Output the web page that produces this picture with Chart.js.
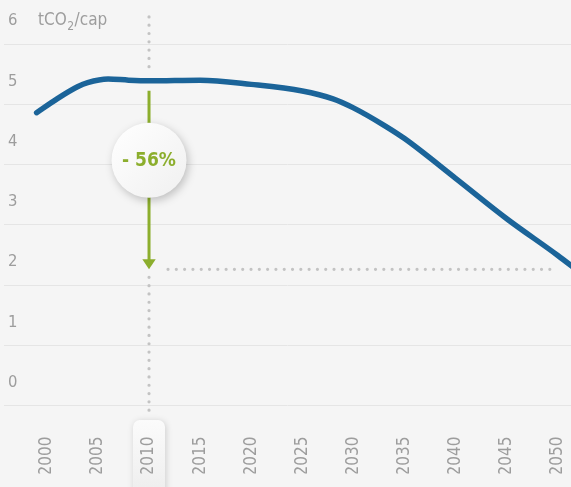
<!DOCTYPE html>
<html>
<head>
<meta charset="utf-8">
<script src="https://cdn.jsdelivr.net/npm/chart.js@4/dist/chart.umd.min.js"></script>
<style>
  html, body { margin: 0; padding: 0; background: #f5f5f5; }
  canvas { display: block; }
</style>
</head>
<body>
<canvas id="chart" width="571" height="487"></canvas>
<script>
// per-capita CO2 emissions path (tCO2/cap)
const years = [1999, 2001, 2003, 2004, 2006, 2008, 2010, 2015, 2020, 2025, 2028, 2030, 2033, 2035, 2040, 2045, 2050, 2052];
const emissions = [4.86, 5.09, 5.29, 5.36, 5.42, 5.40, 5.39, 5.40, 5.33, 5.22, 5.09, 4.94, 4.65, 4.43, 3.77, 3.10, 2.49, 2.23];

const tickYears = [2000, 2005, 2010, 2015, 2020, 2025, 2030, 2035, 2040, 2045, 2050];
const tickValues = [0, 1, 2, 3, 4, 5, 6];

const unitLabel = ['tCO', '2', '/cap'];
const highlightYear = 2010;
const targetYear = 2050;
const baseValue = 5.39;
const targetValue = 2.26;
const reductionLabel = '- 56%';

const FONT = "'Liberation Sans Narrow', 'Arial Narrow', 'DejaVu Sans Condensed', sans-serif";
const GREY_TEXT = '#9d9d9d';
const GREEN = '#8cae2d';
const BLUE = '#1b6499';

function dotted(ctx, x1, y1, x2, y2) {
    ctx.save();
    ctx.strokeStyle = '#c3c3c3';
    ctx.lineWidth = 3.2;
    ctx.lineCap = 'round';
    ctx.setLineDash([0, 8.3]);
    ctx.beginPath();
    ctx.moveTo(x1, y1);
    ctx.lineTo(x2, y2);
    ctx.stroke();
    ctx.restore();
}

const overlay = {
    id: 'overlay',
    beforeDraw(chart) {
        const { ctx, scales: { x, y } } = chart;
        // highlighted year tab behind the tick label
        const px = x.getPixelForValue(highlightYear);
        const top = y.bottom + 14.5;
        ctx.save();
        ctx.shadowColor = 'rgba(0,0,0,0.16)';
        ctx.shadowBlur = 6;
        ctx.shadowOffsetX = 1;
        ctx.shadowOffsetY = 1;
        const g = ctx.createLinearGradient(0, top, 0, chart.height);
        g.addColorStop(0, '#fbfbfb');
        g.addColorStop(1, '#efefef');
        ctx.fillStyle = g;
        ctx.beginPath();
        ctx.roundRect(px - 16, top, 32, 90, 7);
        ctx.fill();
        ctx.restore();
    },
    beforeDatasetsDraw(chart) {
        const { ctx, scales: { x, y } } = chart;
        const px = x.getPixelForValue(highlightYear);
        const lineY = y.getPixelForValue(baseValue);
        const targetY = y.getPixelForValue(targetValue);

        // guides
        dotted(ctx, px, y.getPixelForValue(6.45), px, lineY - 12);
        dotted(ctx, px, targetY + 8, px, y.bottom + 5);
        dotted(ctx, px + 19, targetY, x.getPixelForValue(targetYear), targetY);

        // unit label next to the top tick
        const ty = y.getPixelForValue(6) - 23;
        ctx.save();
        ctx.fillStyle = GREY_TEXT;
        ctx.textBaseline = 'middle';
        ctx.font = '17px ' + FONT;
        let tx = 38;
        ctx.fillText(unitLabel[0], tx, ty);
        tx += ctx.measureText(unitLabel[0]).width + 0.5;
        ctx.font = '12px ' + FONT;
        ctx.fillText(unitLabel[1], tx, ty + 6);
        tx += ctx.measureText(unitLabel[1]).width + 0.5;
        ctx.font = '17px ' + FONT;
        ctx.fillText(unitLabel[2], tx, ty);
        ctx.restore();
    },
    afterDatasetsDraw(chart) {
        const { ctx, scales: { x, y } } = chart;
        const px = x.getPixelForValue(highlightYear);
        const lineY = y.getPixelForValue(baseValue);
        const targetY = y.getPixelForValue(targetValue);

        // arrow
        ctx.save();
        ctx.strokeStyle = GREEN;
        ctx.fillStyle = GREEN;
        ctx.lineWidth = 3;
        ctx.beginPath();
        ctx.moveTo(px, lineY + 10);
        ctx.lineTo(px, targetY - 9);
        ctx.stroke();
        ctx.beginPath();
        ctx.moveTo(px - 6.7, targetY - 10);
        ctx.lineTo(px + 6.7, targetY - 10);
        ctx.lineTo(px, targetY);
        ctx.closePath();
        ctx.fill();
        ctx.restore();

        // badge
        const cy = y.getPixelForValue(4.07);
        const r = 37.5;
        ctx.save();
        ctx.shadowColor = 'rgba(0,0,0,0.22)';
        ctx.shadowBlur = 8;
        ctx.shadowOffsetX = 2;
        ctx.shadowOffsetY = 3;
        const g = ctx.createLinearGradient(px - r, cy - r, px + r, cy + r);
        g.addColorStop(0, '#ffffff');
        g.addColorStop(1, '#f0f0f0');
        ctx.fillStyle = g;
        ctx.beginPath();
        ctx.arc(px, cy, r, 0, Math.PI * 2);
        ctx.fill();
        ctx.restore();

        ctx.save();
        ctx.fillStyle = GREEN;
        ctx.font = 'bold 19px ' + FONT;
        ctx.textAlign = 'center';
        ctx.textBaseline = 'middle';
        ctx.fillText(reductionLabel, px, cy + 1);
        ctx.restore();
    }
};

new Chart(document.getElementById('chart'), {
    type: 'line',
    data: {
        datasets: [{
            data: years.map((yr, i) => ({ x: yr, y: emissions[i] })),
            borderColor: BLUE,
            borderWidth: 5.5,
            borderCapStyle: 'round',
            cubicInterpolationMode: 'monotone',
            pointRadius: 0,
            fill: false
        }]
    },
    options: {
        responsive: false,
        animation: false,
        layout: { padding: { left: 4, right: 0, top: 44, bottom: 13.5 } },
        plugins: {
            legend: { display: false },
            tooltip: { enabled: false }
        },
        scales: {
            x: {
                type: 'linear',
                min: 1995.81,
                max: 2051.29,
                afterBuildTicks: scale => { scale.ticks = tickYears.map(v => ({ value: v })); },
                afterFit: scale => { scale.paddingLeft = 0; scale.paddingRight = 0; scale.height = 68; },
                grid: { display: false, drawTicks: false },
                border: { display: false },
                ticks: {
                    autoSkip: false,
                    minRotation: 90,
                    maxRotation: 90,
                    padding: 31,
                    color: GREY_TEXT,
                    font: { family: FONT, size: 17, lineHeight: 1 },
                    callback: v => String(v)
                }
            },
            y: {
                min: 0,
                max: 6,
                afterBuildTicks: scale => { scale.ticks = tickValues.map(v => ({ value: v })); },
                afterFit: scale => { scale.width = 0; scale.paddingTop = 0; scale.paddingBottom = 0; },
                grid: { color: '#e5e5e5', lineWidth: 1, drawTicks: false },
                border: { display: false },
                ticks: {
                    mirror: true,
                    padding: 4,
                    labelOffset: -23,
                    color: GREY_TEXT,
                    font: { family: FONT, size: 16.5 }
                }
            }
        }
    },
    plugins: [overlay]
});
</script>
</body>
</html>
